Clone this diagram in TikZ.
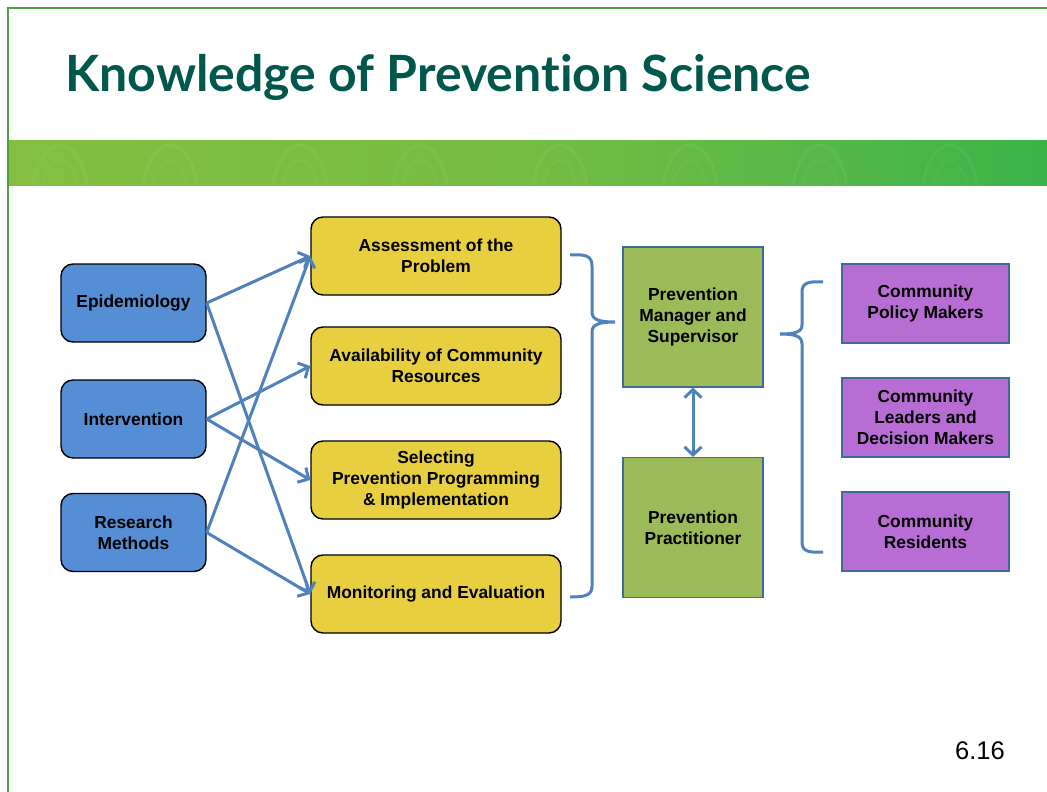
\documentclass[tikz,border=0pt]{standalone}
\usepackage{fontspec}
\setmainfont{Liberation Sans}
\newfontfamily\titlefont{Lato}[Ligatures=NoCommon]
\usetikzlibrary{arrows.meta}
\definecolor{frameG}{HTML}{4EA146}
\definecolor{titleC}{HTML}{00574B}
\definecolor{bannerL}{HTML}{84BF41}
\definecolor{bannerR}{HTML}{3CB44A}
\definecolor{lnblue}{HTML}{4F81BD}
\definecolor{bluefill}{HTML}{558ED5}
\definecolor{yellowfill}{HTML}{E7CF40}
\definecolor{greenfill}{HTML}{9BBB59}
\definecolor{purplefill}{HTML}{B76DD3}
\definecolor{edgeblue}{HTML}{3E6A9E}
\tikzset{
  lbl/.style={font=\bfseries\fontsize{17.4}{21}\selectfont, align=center, inner sep=0pt},
  bluebox/.style={lbl, draw=black, line width=1.4pt, fill=bluefill, rounded corners=12pt, minimum width=145pt, minimum height=78pt},
  yellowbox/.style={lbl, draw=black, line width=1.4pt, fill=yellowfill, rounded corners=12pt, minimum width=250pt, minimum height=78pt},
  greenbox/.style={lbl, draw=edgeblue, line width=1.1pt, fill=greenfill, minimum width=140pt, minimum height=140pt},
  purplebox/.style={lbl, draw=edgeblue, line width=1.1pt, fill=purplefill, minimum width=167pt, minimum height=79pt},
  tipb/.tip={Straight Barb[length=8pt,width=17pt,line width=3pt]},
  conn/.style={draw=lnblue, line width=3pt, -tipb},
  bracestyle/.style={draw=lnblue, line width=3pt}
}
\begin{document}
\begin{tikzpicture}[x=1pt,y=-1pt]
\useasboundingbox (0,0) rectangle (1047,792);
% frame
\draw[frameG, line width=2pt] (8,792) -- (8,8) -- (1047,8);
% banner
\shade[left color=bannerL, right color=bannerR, middle color=bannerL!80!bannerR] (9,140) rectangle (1047,185);
\begin{scope}
\clip (9,140) rectangle (1047,185);
\foreach \cx in {60,170,300,420,560,690,820,950} {
  \draw[white, opacity=0.05, line width=3pt] (\cx,200) ellipse (28pt and 55pt);
  \draw[white, opacity=0.04, line width=2pt] (\cx,200) ellipse (18pt and 40pt);
}
\end{scope}
% title
\node[anchor=base west, inner sep=0pt, text=titleC, font=\titlefont\bfseries\fontsize{50}{54}\selectfont] (title) at (65,92) {Knowledge of Prevention Science};
% left column
\node[bluebox] (epi) at (133.5,303) {Epidemiology};
\node[bluebox] (int) at (133.5,419) {Intervention};
\node[bluebox] (res) at (133.5,532.5) {Research\\Methods};
% yellow column
\node[yellowbox] (ass) at (436,256) {Assessment of the\\Problem};
\node[yellowbox] (ava) at (436,366) {Availability of Community\\Resources};
\node[yellowbox] (sel) at (436,480) {Selecting\\Prevention Programming\\\& Implementation};
\node[yellowbox] (mon) at (436,594) {Monitoring and Evaluation};
% green
\node[greenbox] (man) at (693,317) {Prevention\\Manager and\\Supervisor};
\node[greenbox] (pra) at (693,527.5) {Prevention\\Practitioner};
% purple
\node[purplebox] (pol) at (925.5,303.5) {Community\\Policy Makers};
\node[purplebox] (lea) at (925.5,417.5) {Community\\Leaders and\\Decision Makers};
\node[purplebox] (rsd) at (925.5,531.5) {Community\\Residents};
% connectors
\draw[conn] (epi.east) -- (ass.west);
\draw[conn] (epi.east) -- (mon.west);
\draw[conn] (int.east) -- (ava.west);
\draw[conn] (int.east) -- (sel.west);
\draw[conn] (res.east) -- (ass.west);
\draw[conn] (res.east) -- (mon.west);
\draw[draw=lnblue, line width=3pt, tipb-tipb] (man.south) -- (pra.north);
% braces
\draw[bracestyle] (570,255) .. controls (586,254) and (592,256) .. (592,266) -- (592,312)
  .. controls (592,320) and (600,322) .. (615,322)
  .. controls (600,322) and (592,324) .. (592,332) -- (592,586)
  .. controls (592,595) and (586,597) .. (570,597);
\draw[bracestyle] (823,282) .. controls (808,281) and (802,283) .. (802,292) -- (802,325)
  .. controls (802,332) and (795,334) .. (780,334)
  .. controls (795,334) and (802,336) .. (802,344) -- (802,542)
  .. controls (802,551) and (808,553) .. (823,552);
% page number
\node[anchor=base, inner sep=0pt, font=\fontsize{25.5}{28}\selectfont] (num) at (980,759) {6.16};
\end{tikzpicture}
\end{document}
